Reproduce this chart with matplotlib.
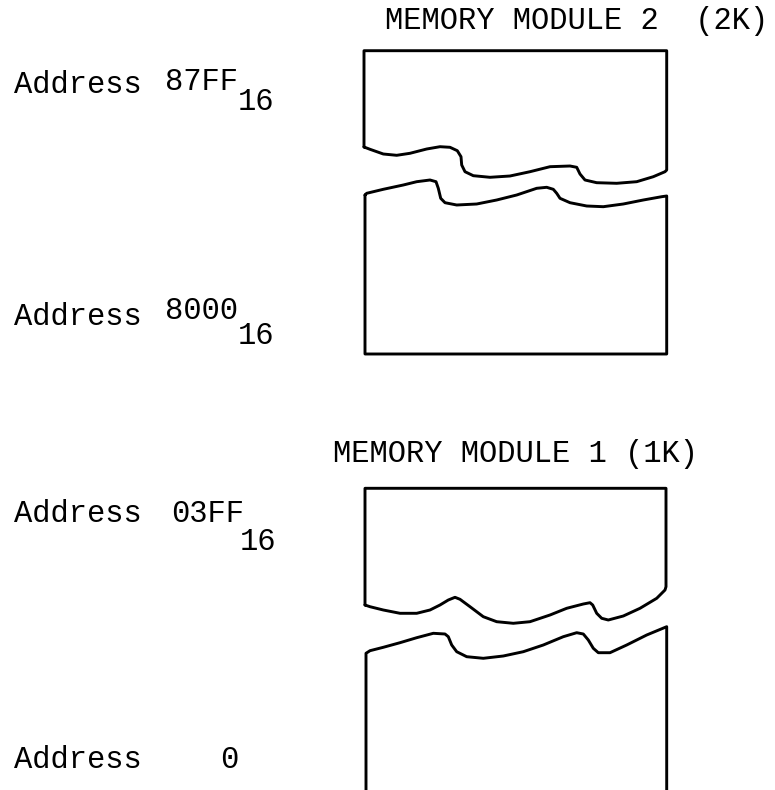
import matplotlib.pyplot as plt

# outlines of the memory blocks (pixel coords, y downward)
mod2_top_wave = [(364, 147), (370, 149.3), (383.3, 154), (396.7, 155.3), (410, 153.3), (426.7, 149),
                 (440, 146.7), (450, 147.3), (457.3, 150.7), (461, 156.7), (461.7, 165), (465, 171.7),
                 (473.3, 175.7), (490, 177.3), (510, 176), (530, 171.7), (550, 166.7), (570, 166),
                 (576.7, 167.3), (580, 174), (585, 180), (596.7, 182.7), (616.7, 183.3), (636.7, 181.7),
                 (653.3, 176.7), (665, 171.7), (666.7, 170)]
mod2_bot_wave = [(365, 195), (366.7, 193.3), (383.3, 189.3), (403.3, 185), (416.7, 181.7), (430, 180),
                 (436, 181.7), (438.3, 188.3), (440.7, 198.3), (445, 202.7), (456.7, 205), (476.7, 204),
                 (496.7, 200), (516.7, 195), (536.7, 188.3), (546.7, 187.3), (553.3, 189.3), (556.7, 193.3),
                 (560, 198.3), (570, 202.7), (586.7, 206), (603.3, 206.7), (623.3, 204), (643.3, 200),
                 (661.7, 196.7), (666.7, 196)]
mod1_top_wave = [(365, 605), (370, 606.7), (383.3, 610), (400, 613.3), (416.7, 613.3), (430, 610),
                 (440, 605), (448.3, 600), (455, 597.3), (460, 599.3), (470, 606.7), (483.3, 616.7),
                 (496.7, 621.7), (513.3, 623.3), (530, 621.7), (550, 615), (566.7, 608.3), (583.3, 604),
                 (590, 602.7), (592.7, 605), (596.7, 613.3), (601.7, 618.3), (608.3, 620), (623.3, 616),
                 (640, 608.3), (656.7, 598.3), (665, 590), (666, 586.7)]
mod1_bot_wave = [(366, 653.3), (370, 650.7), (383.3, 647.3), (400, 642.7), (416.7, 637.7), (433.3, 633.3),
                 (445, 634), (448.3, 636.7), (451.7, 645), (456.7, 651.7), (466.7, 656.7), (483.3, 658.3),
                 (503.3, 656), (523.3, 651.7), (543.3, 645), (563.3, 636.7), (576.7, 632.7), (583.3, 634),
                 (588.3, 640), (593.3, 648.3), (598.3, 652.7), (610, 652.7), (626.7, 645), (646.7, 635),
                 (666.7, 626.7)]

mod2_top, mod2_bottom = 50.7, 354
mod1_top = 488.3
left_x, right_x = 365, 666.7

titles = ["MEMORY MODULE 2  (2K)", "MEMORY MODULE 1 (1K)"]
addresses = ["87FF", "8000", "03FF", "0"]

font = 'Liberation Mono'
fs = 22

fig = plt.figure(figsize=(7.75, 7.9), dpi=100)
ax = fig.add_axes([0, 0, 1, 1])
ax.set_xlim(0, 775)
ax.set_ylim(790, 0)
ax.axis('off')

lw = 2.1
kw = dict(color='black', lw=lw, solid_joinstyle='round', solid_capstyle='round')

def draw(pts, **k):
    xs, ys = zip(*pts)
    ax.plot(xs, ys, **kw, **k)

# module 2, upper piece
draw(mod2_top_wave + [(right_x, mod2_top), (left_x - 1, mod2_top), mod2_top_wave[0]])
# module 2, lower piece
draw(mod2_bot_wave + [(right_x, mod2_bottom), (left_x, mod2_bottom), mod2_bot_wave[0]])
# module 1, upper piece
draw(mod1_top_wave + [(right_x - 0.7, mod1_top), (left_x, mod1_top), mod1_top_wave[0]])
# module 1, lower piece (runs off the bottom)
draw([(left_x + 1, 800)] + mod1_bot_wave + [(right_x, 800)])

tk = dict(family=font, fontsize=fs, va='baseline', color='black')

# titles
ax.text(385, 29, titles[0], **tk)
ax.text(333, 462, titles[1], **tk)

# address labels
ax.text(14, 93, "Address", **tk)
ax.text(165, 90, addresses[0], **tk)
ax.text(238, 110, "16", **tk)

ax.text(14, 325, "Address", **tk)
ax.text(165, 319, addresses[1], **tk)
ax.text(238, 344, "16", **tk)

ax.text(14, 522, "Address", **tk)
ax.text(171, 522, addresses[2], **tk)
ax.text(240, 550, "16", **tk)

ax.text(14, 768, "Address", **tk)
ax.text(220, 768, addresses[3], **tk)

fig.savefig('out.png', dpi=100, facecolor='white')
